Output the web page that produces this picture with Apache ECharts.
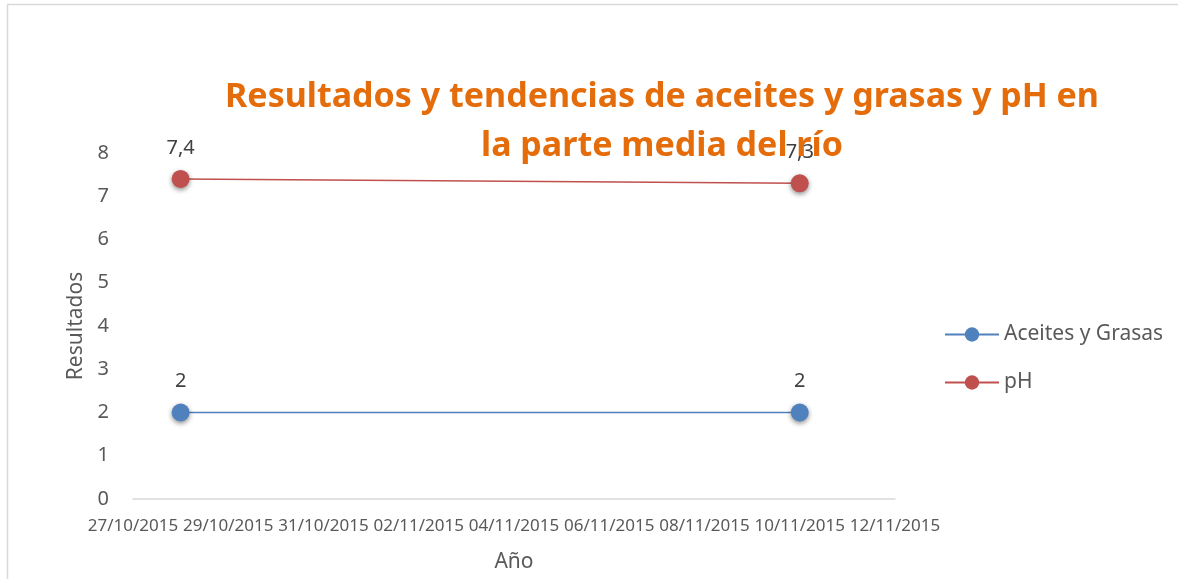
<!DOCTYPE html>
<html>
<head>
<meta charset="utf-8">
<script src="https://cdn.jsdelivr.net/npm/echarts@6/dist/echarts.min.js"></script>
<style>html,body{margin:0;padding:0;background:#fff}#c{width:1178px;height:579px}</style>
</head>
<body>
<div id="c"></div>
<script>
const titleText = 'Resultados y tendencias de aceites y grasas y pH en\nla parte media del río';
const dates = ['2015-10-28', '2015-11-10'];
const aceites = [2, 2];
const ph = [7.4, 7.3];
const seriesNames = ['Aceites y Grasas', 'pH'];
const xMinDate = '2015-10-27';
const xMaxDate = '2015-11-12';
const yMin = 0, yMax = 8, yStep = 1;
const xName = 'Año', yName = 'Resultados';

const DAY = 86400000;
const ts = d => Date.parse(d + 'T00:00:00Z');
const pad = n => (n < 10 ? '0' : '') + n;
const fmtDate = v => { const d = new Date(v); return pad(d.getUTCDate()) + '/' + pad(d.getUTCMonth() + 1) + '/' + d.getUTCFullYear(); };

const chart = echarts.init(document.getElementById('c'));
const mk = (name, vals, color) => ({
  name, type: 'line',
  data: dates.map((d, i) => [ts(d), vals[i]]),
  symbol: 'circle', symbolSize: 18,
  lineStyle: { color, width: 1.6 },
  itemStyle: {
    color: color,
    shadowBlur: 5, shadowColor: 'rgba(0,0,0,0.45)', shadowOffsetY: 2
  },
  label: { show: true, position: 'top', distance: 12, fontSize: 20, color: '#404040', fontFamily: 'Noto Sans',
    formatter: p => String(p.value[1]).replace('.', ',') },
  z: 3
});
chart.setOption({
  backgroundColor: '#fff',
  animation: false,
  textStyle: { fontFamily: 'Noto Sans' },
  title: { text: titleText, left: 657, textAlign: 'center', top: 68,
    textStyle: { color: '#E46C0A', fontSize: 34, fontWeight: 'bold', lineHeight: 49, fontFamily: 'Noto Sans' }, z: 1 },
  graphic: [{ type: 'polyline', shape: { points: [[7.5, 600], [7.5, 4.5], [1200, 4.5]] }, style: { stroke: '#d9d9d9', lineWidth: 1.5, fill: null }, z: -1 }],
  legend: {
    orient: 'vertical', left: 939, top: 319, itemGap: 27, itemWidth: 54, itemHeight: 18,
    textStyle: { fontSize: 21, color: '#595959', fontFamily: 'Noto Sans' },
    data: seriesNames
  },
  grid: { left: 133, right: 283, top: 153, bottom: 80 },
  xAxis: {
    type: 'value', min: ts(xMinDate), max: ts(xMaxDate), interval: 2 * DAY,
    name: xName, nameLocation: 'middle', nameGap: 53,
    nameTextStyle: { fontSize: 21, color: '#595959' },
    axisLine: { lineStyle: { color: '#d9d9d9', width: 1.5 } },
    axisTick: { show: false }, splitLine: { show: false },
    axisLabel: { formatter: fmtDate, fontSize: 17, color: '#595959', margin: 19, hideOverlap: false }
  },
  yAxis: {
    type: 'value', min: yMin, max: yMax, interval: yStep,
    name: yName, nameLocation: 'middle', nameGap: 45, nameRotate: 90,
    nameTextStyle: { fontSize: 21, color: '#595959' },
    axisLine: { show: false }, axisTick: { show: false }, splitLine: { show: false },
    axisLabel: { fontSize: 20, color: '#595959', margin: 24 }
  },
  series: [mk(seriesNames[0], aceites, '#4F81BD'), mk(seriesNames[1], ph, '#C0504D')]
});
</script>
</body>
</html>
